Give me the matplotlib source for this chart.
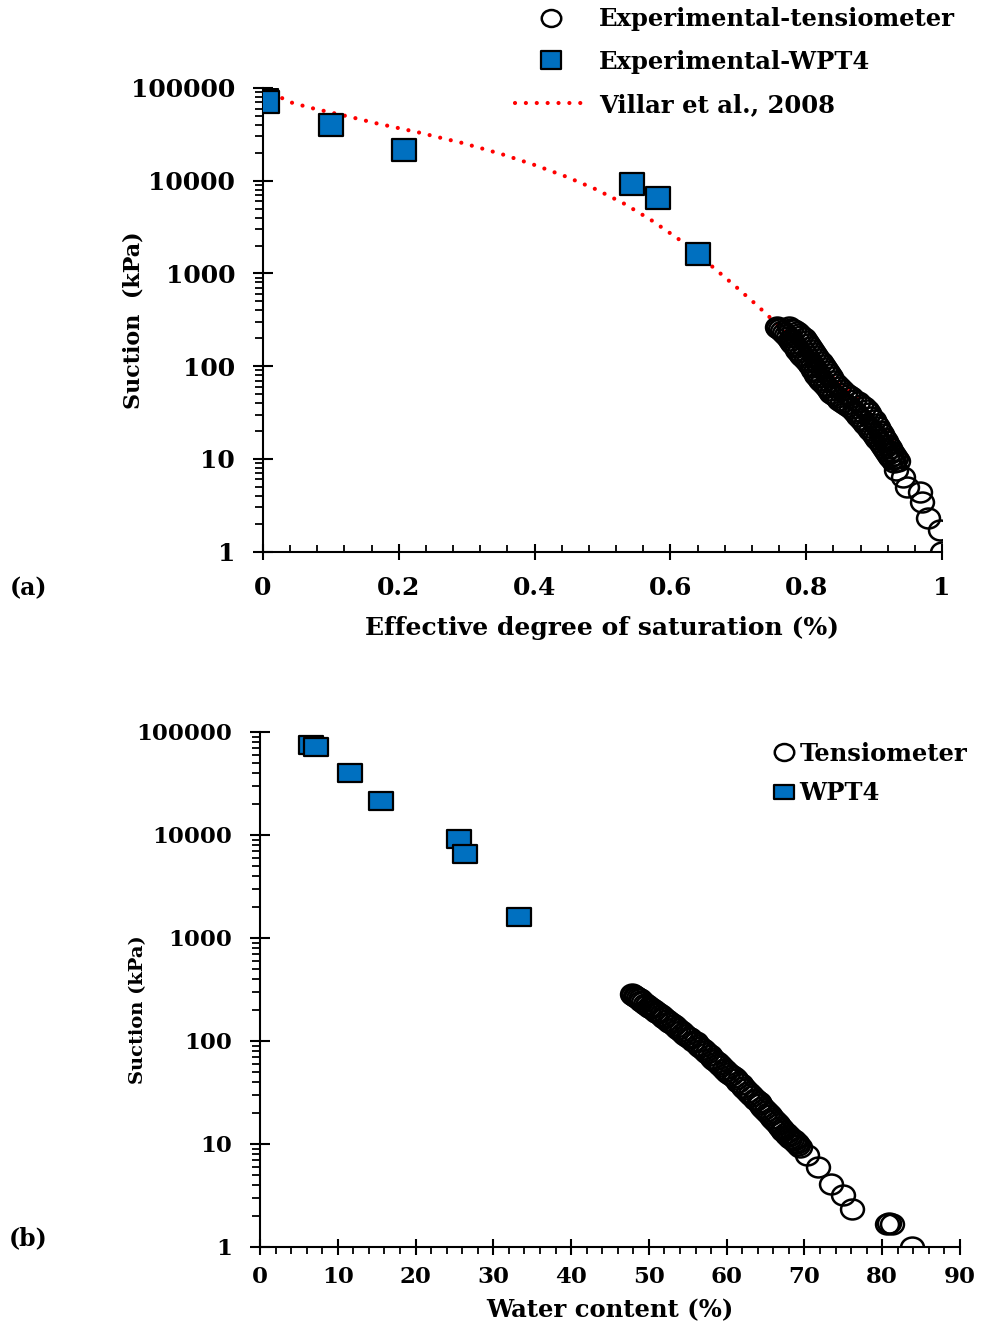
'''
Soil water retention: suction vs effective saturation (a) and vs water content (b)
'''

import numpy as np
import matplotlib
matplotlib.use("Agg")
import matplotlib.pyplot as plt
from matplotlib.path import Path
from matplotlib.transforms import Affine2D
from matplotlib.ticker import FixedLocator, MultipleLocator, LogLocator, FuncFormatter, NullFormatter

plt.rcParams['font.family'] = ['DejaVu Serif']
plt.rcParams['font.weight'] = 'bold'

## data ##
# WPT4 (dew point) measurements, shared suction values
wpt4_suction = [74800, 71000, 40300, 21500, 9150, 6540, 1610]
wpt4_se = [0.005, 0.006, 0.100, 0.207, 0.543, 0.582, 0.640]
wpt4_w = [6.56, 7.16, 11.57, 15.56, 25.62, 26.36, 33.34]

# tensiometer, panel (a) - the dense band reads as two close tracks
tens_se = [0.757, 0.759, 0.762, 0.765, 0.768, 0.770, 0.773, 0.776, 0.779, 0.782,
           0.785, 0.787, 0.790, 0.793, 0.796, 0.799, 0.802, 0.805, 0.808, 0.810,
           0.813, 0.815, 0.818, 0.821, 0.824, 0.827, 0.830, 0.833, 0.837, 0.841,
           0.845, 0.849, 0.853, 0.857, 0.862, 0.866, 0.870, 0.873, 0.877, 0.880,
           0.884, 0.887, 0.891, 0.894, 0.898, 0.901, 0.904, 0.908, 0.911, 0.914,
           0.918, 0.921, 0.924, 0.926, 0.929,
           0.775, 0.778, 0.782, 0.786, 0.790, 0.793, 0.797, 0.800, 0.803, 0.805,
           0.808, 0.811, 0.815, 0.818, 0.822, 0.825, 0.828, 0.830, 0.833, 0.836,
           0.840, 0.844, 0.848, 0.852, 0.857, 0.861, 0.866, 0.871, 0.876, 0.880,
           0.885, 0.889, 0.893, 0.896, 0.900, 0.903, 0.906, 0.909, 0.912, 0.915,
           0.918, 0.921, 0.924, 0.927, 0.930, 0.932, 0.935,
           0.932, 0.943, 0.948, 0.968, 0.970, 0.980, 0.997, 1.000]
tens_suction_a = [265, 258, 250, 239, 228, 216, 205, 192, 180, 170,
                  160, 151, 142, 133, 125, 117, 110, 103, 97, 91,
                  86, 81, 76, 71, 67, 63, 59, 55, 52, 49,
                  46, 43.5, 41, 39, 37, 35, 33, 31, 29, 27,
                  25.5, 23.5, 22, 20.5, 19, 17.7, 16.5, 15.3, 14.2, 13.2,
                  12.3, 11.4, 10.6, 9.9, 9.3,
                  262, 254, 245, 235, 225, 212, 200, 187, 175, 162,
                  150, 139, 128, 119, 110, 102, 95, 88, 82, 76,
                  70, 65, 60, 56, 52, 49, 46, 43.5, 41, 38.5,
                  36, 33.5, 31, 28.5, 26, 24, 22, 20, 18.5, 17,
                  15.5, 14.2, 13, 12, 11, 10.3, 9.6,
                  7.6, 6.45, 5.0, 4.4, 3.47, 2.3, 1.71, 1.0]

# tensiometer, panel (b)
tens_w = [47.8, 48.0, 48.2, 48.4, 48.6, 48.8, 49.0, 49.3, 49.5, 49.8,
          50.0, 50.3, 50.6, 50.9, 51.2, 51.5, 51.8, 52.0, 52.3, 52.6,
          52.9, 53.2, 53.5, 53.8, 54.1, 54.4, 54.7, 55.0, 55.3, 55.7,
          56.0, 56.3, 56.6, 56.9, 57.2, 57.5, 57.8, 58.1, 58.4, 58.7,
          59.0, 59.3, 59.6, 59.9, 60.2, 60.6, 60.9, 61.2, 61.5, 61.8,
          62.1, 62.4, 62.7, 63.0, 63.3, 63.6, 63.8, 64.1, 64.3, 64.6,
          64.8, 65.1, 65.3, 65.6, 65.8, 66.1, 66.3, 66.6, 66.9, 67.1,
          67.3, 67.6, 67.8, 68.0, 68.2, 68.4, 68.6, 68.8, 69.0, 69.2, 69.4,
          70.3, 71.7, 73.4, 74.9, 76.1, 80.6, 80.9, 81.2, 83.8]
tens_suction_b = [285, 280, 274, 268, 261, 253, 245, 237, 230, 222,
                  215, 208, 200, 193, 186, 179, 172, 166, 160, 154,
                  148, 142, 136, 130, 125, 120, 115, 110, 106, 101,
                  97, 92, 88, 84, 80, 76, 73, 69, 66, 63,
                  60, 57, 54, 51.5, 49, 47, 45, 42.5, 40, 38,
                  36, 34, 32, 30.5, 29, 27.5, 26.5, 25.5, 24.5, 23,
                  22, 21, 20, 19, 18, 17, 16.3, 15.5, 14.7, 14.1,
                  13.5, 12.9, 12.3, 11.9, 11.5, 11.2, 10.9, 10.5, 10.2, 9.8, 9.4,
                  7.8, 5.94, 4.09, 3.2, 2.32, 1.68, 1.70, 1.66, 1.0]

# Villar et al. (2008) curve
villar_se = [0.0, 0.039, 0.069, 0.101, 0.133, 0.165, 0.197, 0.229, 0.261, 0.292,
             0.324, 0.353, 0.401, 0.446, 0.490, 0.532, 0.572, 0.611, 0.658, 0.694,
             0.728, 0.739, 0.80, 0.84, 0.873, 0.91, 0.952]
villar_suction = [100000, 70600, 61400, 54200, 47900, 41900, 37300, 33200, 29100, 25700,
                  22100, 19200, 14700, 11100, 8100, 5650, 3750, 2380, 1250, 746,
                  450, 378, 144, 76, 46.5, 22.7, 10]

y_ticks = [1, 10, 100, 1000, 10000, 100000]

## marker shapes (original picture is a little stretched sideways) ##
ellipse = Path.unit_circle().transformed(Affine2D().scale(1.15, 1.0))

def rect_marker(ratio):
    return Path([(-ratio, -1), (ratio, -1), (ratio, 1), (-ratio, 1), (-ratio, -1)],
                [Path.MOVETO, Path.LINETO, Path.LINETO, Path.LINETO, Path.CLOSEPOLY])

blue = '#0070C0'
lw_axis = 1.5

def style_axis(ax, xminor, xminor_dir, font_tick, xpad, ypad):
    for s in ['top', 'right']:
        ax.spines[s].set_visible(False)
    for s in ['left', 'bottom']:
        ax.spines[s].set_linewidth(lw_axis)
    ax.set_yscale('log')
    ax.set_ylim(1, 100000)
    ax.yaxis.set_major_locator(FixedLocator(y_ticks))
    ax.yaxis.set_minor_locator(LogLocator(base=10, subs=np.arange(2, 10)))
    ax.yaxis.set_major_formatter(FuncFormatter(lambda v, _: '%d' % int(round(v))))
    ax.yaxis.set_minor_formatter(NullFormatter())
    ax.xaxis.set_minor_locator(MultipleLocator(xminor))
    ax.tick_params(axis='y', which='major', direction='inout', length=14, width=lw_axis,
                   labelsize=font_tick, pad=ypad)
    ax.tick_params(axis='y', which='minor', direction='out', length=6, width=1.3)
    ax.tick_params(axis='x', which='major', direction='inout', length=11, width=lw_axis,
                   labelsize=font_tick, pad=xpad)
    ax.tick_params(axis='x', which='minor', direction=xminor_dir, length=5, width=1.3)
    for lab in ax.get_xticklabels() + ax.get_yticklabels():
        lab.set_fontweight('bold')


fig = plt.figure(figsize=(9.83, 13.27), dpi=100, facecolor='white')

## (a) effective degree of saturation ##
ax1 = fig.add_axes([0.2675, 0.5843, 0.6908, 0.3494])
ax1.plot(villar_se, villar_suction, color='red', lw=3.0, linestyle=(0, (0.01, 2.6)),
         dash_capstyle='round', zorder=2, label='Villar et al., 2008')
ax1.plot(tens_se, tens_suction_a, linestyle='none', marker=ellipse, ms=16.5,
         mfc='none', mec='black', mew=1.8, zorder=3, label='Experimental-tensiometer')
ax1.plot(wpt4_se, wpt4_suction, linestyle='none', marker=rect_marker(1.14), ms=17.3,
         mfc=blue, mec='black', mew=1.6, zorder=4, label='Experimental-WPT4')
ax1.set_xlim(0, 1)
ax1.set_xticks([0, 0.2, 0.4, 0.6, 0.8, 1])
ax1.set_xticklabels(['0', '0.2', '0.4', '0.6', '0.8', '1'])
style_axis(ax1, 0.04, 'in', 18, 12, 13)
ax1.set_xlabel('Effective degree of saturation (%)', fontsize=18, fontweight='bold', va='center')
ax1.xaxis.set_label_coords(0.5, -0.165)
ax1.set_ylabel('Suction  (kPa)', fontsize=16, fontweight='bold', va='center')
ax1.yaxis.set_label_coords(-0.191, 0.5)

h, l = ax1.get_legend_handles_labels()
order = [1, 2, 0]
ax1.legend([h[i] for i in order], [l[i] for i in order],
           loc='center left', bbox_to_anchor=(515 / 983, 1 - 62 / 1327),
           bbox_transform=fig.transFigure, frameon=False, fontsize=17.5,
           handlelength=3.0, handletextpad=0.45, labelspacing=0.78,
           markerscale=0.85, borderpad=0, borderaxespad=0)

## (b) water content ##
ax2 = fig.add_axes([0.2645, 0.0603, 0.7121, 0.3881])
ax2.plot(tens_w, tens_suction_b, linestyle='none', marker=ellipse, ms=16.5,
         mfc='none', mec='black', mew=1.8, zorder=3, label='Tensiometer')
ax2.plot(wpt4_w, wpt4_suction, linestyle='none', marker=rect_marker(1.35), ms=16.6,
         mfc=blue, mec='black', mew=1.6, zorder=4, label='WPT4')
ax2.set_xlim(0, 90)
ax2.set_xticks(np.arange(0, 91, 10))
style_axis(ax2, 2, 'out', 16.5, 8, 13)
ax2.set_xlabel('Water content (%)', fontsize=17.5, fontweight='bold', va='center')
ax2.xaxis.set_label_coords(0.5, -0.122)
ax2.set_ylabel('Suction (kPa)', fontsize=14, fontweight='bold', va='center')
ax2.yaxis.set_label_coords(-0.174, 0.46)
ax2.legend(loc='upper left', bbox_to_anchor=(773 / 983, 1 - 742 / 1327),
           bbox_transform=fig.transFigure, frameon=False, fontsize=17.5,
           handlelength=0.9, handletextpad=0.2, labelspacing=0.62,
           markerscale=0.85, borderpad=0, borderaxespad=0)

## panel letters ##
fig.text(28 / 983, 1 - 588 / 1327, '(a)', fontsize=17, fontweight='bold', ha='center', va='center')
fig.text(28 / 983, 1 - 1238 / 1327, '(b)', fontsize=17, fontweight='bold', ha='center', va='center')

fig.savefig('out.png', dpi=100, facecolor='white')
